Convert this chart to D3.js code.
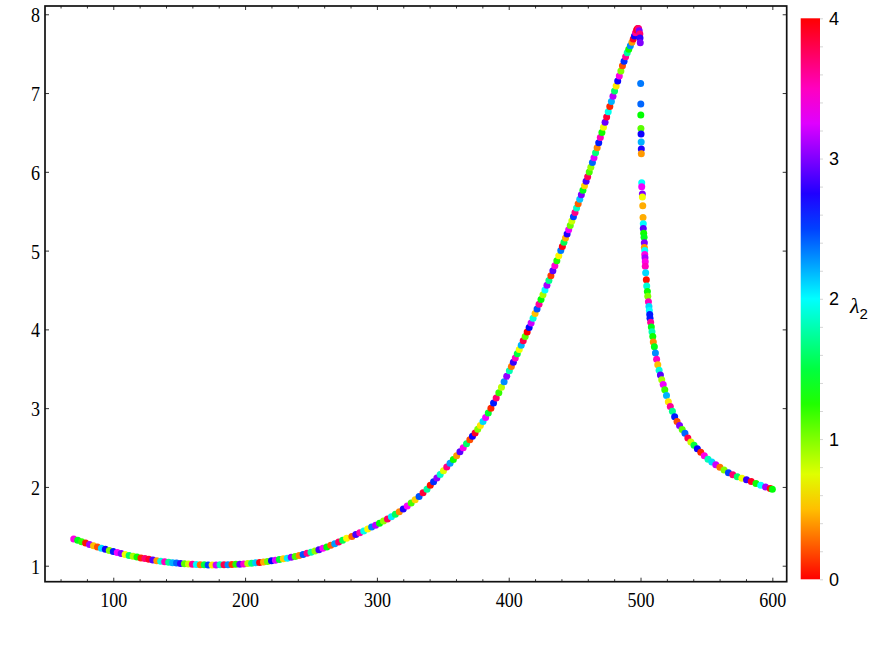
<!DOCTYPE html>
<html><head><meta charset="utf-8">
<script src="https://cdn.jsdelivr.net/npm/d3@7"></script>
<style>html,body{margin:0;padding:0;background:#fff;}</style>
</head><body>
<svg id="chart" width="872" height="654"></svg>
<script>
// ---------- data ----------
const xTicks = [100, 200, 300, 400, 500, 600];
const yTicks = [1, 2, 3, 4, 5, 6, 7, 8];
const colorTicks = [0, 1, 2, 3, 4];
const colorLabel = "λ";
const colorLabelSub = "2";

const xValues = [
70,73,76,79,82,85,88,91,94,97,100,103,106,109,112,115,118,121,124,127,130,133,136,139,142,145,148,151,154,157,160,163,166,169,172,175,178,181,184,187,190,193,196,199,202,205,208,211,214,217,220,223,226,229,232,235,238,241,244,247,250,253,256,259,262,265,268,271,274,277,
281,284,287,290,293,296,299,302,305,308,311,314,317,320,323,326,329,332,335,338,
340.5,343,345.5,348,350.5,353,355.5,358,360.5,363,365.5,368,370.5,
372.5,374.5,376.5,378.5,380.5,382.5,384.5,386.5,388.5,390.5,392.5,394.5,396.5,398.5,400.5,
402,403.5,405,406.5,408,409.5,411,412.5,414,415.5,417,418.5,420,421.5,423,424.5,426,427.5,429,430.5,432,433.5,435,436.5,438,439.5,
440.7,441.9,443.1,444.3,445.5,446.7,447.9,449.1,450.3,451.5,452.7,453.9,455.1,456.3,457.5,458.7,459.9,461.1,462.3,463.5,464.7,465.9,467.1,468.3,469.5,470.7,471.9,473.1,474.3,475.5,476.7,477.9,479.1,480.3,481.5,482.7,483.9,485.1,486.3,487.5,488.7,489.9,
491.1,492.3,493.5,494.5,495.4,496.2,497,497.8,498.5,499,
499.5,499.6,499.8,
500.1,500.2,500.2,500.3,500.4,500.5,500.6,500.6,
500.9,500.9,501.4,501.4,501.7,501.9,502.1,502.1,502.4,502.7,
502.9,502.9,503.2,503.2,503.4,503.6,503.6,503.9,504.4,504.7,
505.2,505.5,506.0,506.4,506.7,507.0,507.2,507.7,508.2,508.7,
509.3,509.7,
510.5,511.3,512.2,513.1,514.1,515.1,516.1,517.2,518.4,519.7,521.1,522.6,524.2,525.9,527.7,529.6,531.6,533.7,535.9,538.2,540.6,543.1,545.7,548.4,551.2,554.1,557.1,560.2,563.4,566.7,570,573.4,576.9,580.4,584,587.6,591.2,594.8,598.4,600
];

const yValues = [
1.34,1.322,1.304,1.287,1.27,1.253,1.238,1.222,1.208,1.193,1.18,1.167,1.154,1.142,1.13,1.119,1.109,1.099,1.09,1.081,1.072,1.064,1.057,1.05,1.044,1.038,1.033,1.028,1.024,1.021,1.018,1.015,1.013,1.011,1.01,1.01,1.01,1.011,1.012,1.013,1.015,1.017,1.02,1.023,1.027,1.032,1.037,1.042,1.048,1.055,1.062,1.07,1.078,1.087,1.096,1.106,1.116,1.129,1.143,1.157,1.172,1.187,1.203,1.221,1.239,1.259,1.278,1.30,1.322,1.347,
1.372,1.395,1.418,1.442,1.466,1.49,1.514,1.539,1.566,1.594,1.623,1.654,1.686,1.72,1.757,1.796,1.837,1.88,1.925,1.972,
2.02,2.066,2.112,2.158,2.205,2.252,2.30,2.348,2.397,2.447,2.497,2.548,2.6,
2.642,2.686,2.732,2.78,2.83,2.882,2.94,3.0,3.065,3.13,3.197,3.265,3.334,3.404,3.475,
3.528,3.582,3.636,3.69,3.745,3.8,3.855,3.91,3.966,4.023,4.08,4.14,4.2,4.26,4.32,4.38,4.44,4.5,4.56,4.62,4.682,4.745,4.808,4.872,4.936,5.0,
5.053,5.106,5.159,5.212,5.266,5.32,5.375,5.43,5.485,5.54,5.596,5.652,5.708,5.765,5.822,5.88,5.938,5.997,6.057,6.118,6.18,6.243,6.306,6.37,6.435,6.5,6.565,6.63,6.696,6.762,6.828,6.894,6.96,7.025,7.09,7.154,7.217,7.28,7.345,7.405,7.46,7.51,
7.555,7.6,7.645,7.685,7.725,7.765,7.8,7.82,7.82,7.79,
7.75,7.70,7.64,
7.12,6.86,6.72,6.55,6.48,6.38,6.29,6.23,
5.86,5.81,5.72,5.68,5.57,5.42,5.34,5.28,5.22,5.17,
5.10,5.04,5.0,4.95,4.91,4.86,4.80,4.72,4.63,4.55,
4.48,4.42,4.35,4.29,4.24,4.19,4.14,4.09,4.03,3.97,
3.91,3.84,
3.78,3.70,3.62,3.55,3.48,3.42,3.36,3.30,3.235,3.16,3.08,3.02,2.96,2.89,2.83,2.78,2.73,2.68,2.62,2.57,2.53,2.485,2.44,2.395,2.35,2.315,2.28,2.25,2.215,2.18,2.155,2.13,2.11,2.09,2.07,2.045,2.02,2.0,1.98,1.97
];

const lambdaValues = [
3.4,1.4,1.2,0.05,3.1,0.5,0.2,2.1,2.7,1.0,2.6,3.3,3.0,0.7,1.6,0.9,1.3,0.1,3.7,3.9,2.9,0.4,1.9,3.5,1.7,2.2,2.4,2.8,1.1,0.8,3.6,2.0,0.3,1.5,2.5,0.6,3.2,1.8,3.8,2.3,0.15,1.25,2.95,3.45,0.85,1.65,2.15,3.95,0.45,1.05,2.65,3.25,1.45,0.55,2.05,3.05,1.15,0.35,2.45,3.65,1.75,0.95,2.85,3.35,1.35,0.25,2.25,3.75,1.55,0.65,
0.25,2.85,3.55,1.95,0.65,2.35,3.15,1.35,0.95,3.75,2.05,1.55,0.35,2.75,3.35,1.15,0.55,2.45,3.85,1.75,
0.05,2.55,3.05,1.85,0.75,3.65,2.25,1.3,0.4,2.9,3.4,1.6,0.2,
2.7,3.9,1.0,0.6,2.1,3.3,1.45,0.1,2.6,3.7,1.2,0.85,2.3,3.05,1.8,
0.3,2.8,3.5,1.5,0.7,2.2,3.8,1.1,0.0,2.65,3.2,1.9,0.5,2.45,3.6,1.35,0.9,2.0,3.1,1.7,0.15,2.9,3.45,1.25,0.65,2.35,
3.95,1.55,0.45,2.75,3.3,1.05,0.8,2.5,3.65,1.85,0.25,2.15,3.0,1.4,0.55,2.85,3.75,1.15,0.95,2.4,3.25,1.65,0.35,2.6,3.5,1.3,0.7,2.95,3.85,1.95,0.1,2.2,3.15,1.6,0.6,2.7,3.4,1.0,0.2,2.55,3.6,1.75,
1.3,2.3,0.4,3.9,2.7,3.6,3.9,3.95,3.7,3.0,
3.7,2.8,3.0,
2.35,2.4,1.33,1.1,2.7,2.2,2.75,0.4,
2.0,3.3,3.0,0.7,0.45,0.45,2.0,2.9,1.3,1.4,
3.0,0.4,2.0,3.4,3.1,3.4,3.5,2.1,0.05,1.9,
1.3,1.0,3.5,2.1,2.0,2.6,2.6,3.6,1.4,1.8,
1.3,0.35,
1.4,2.3,3.5,0.5,1.9,2.9,0.9,3.3,1.2,2.2,0.6,3.6,1.7,2.6,0.2,3.0,1.1,2.4,3.8,0.8,1.5,2.7,0.1,3.4,1.8,2.1,3.2,0.3,1.0,2.5,3.7,1.6,0.7,2.8,3.9,1.3,2.0,3.1,0.05,1.35
];

// ---------- layout ----------
const svg = d3.select("#chart");
const plot = {left: 45, right: 786.7, top: 6, bottom: 581.7};

const x = d3.scaleLinear().domain([48.2, 610.9]).range([plot.left, plot.right]);
const y = d3.scaleLinear().domain([0.797, 8.105]).range([plot.bottom, plot.top]);
const color = v => d3.hsl((v / 4) * 360, 1, 0.5).toString();

const points = xValues.map((xv, i) => ({x: xv, y: yValues[i], l: lambdaValues[i]}));

// points
svg.append("g").selectAll("circle").data(points).join("circle")
  .attr("cx", d => x(d.x)).attr("cy", d => y(d.y)).attr("r", 3.5)
  .attr("fill", d => color(d.l));

// axes
const serif = "'Liberation Serif','Times New Roman',serif";
const minorX = d3.range(60, 610, 20).filter(v => v % 100 !== 0);

function styleAxis(g) {
  g.select(".domain").remove();
  g.selectAll(".tick line").attr("stroke", "#333").attr("stroke-width", 1);
}

const gx = svg.append("g").attr("transform", `translate(0,${plot.bottom})`)
  .call(d3.axisBottom(x).tickValues(xTicks).tickSize(-4).tickFormat(d3.format("d")));
styleAxis(gx);
gx.selectAll("text").attr("y", 25).attr("dy", 0).attr("x", 0)
  .attr("transform", "scale(0.82,1)")
  .attr("font-family", serif).attr("font-size", 22).attr("fill", "#000");

svg.append("g").attr("transform", `translate(0,${plot.bottom})`)
  .call(d3.axisBottom(x).tickValues(minorX).tickSize(-2.5).tickFormat(""))
  .call(styleAxis);
svg.append("g").attr("transform", `translate(0,${plot.top})`)
  .call(d3.axisTop(x).tickValues(xTicks).tickSize(-4).tickFormat(""))
  .call(styleAxis);
svg.append("g").attr("transform", `translate(0,${plot.top})`)
  .call(d3.axisTop(x).tickValues(minorX).tickSize(-2.5).tickFormat(""))
  .call(styleAxis);

const gy = svg.append("g").attr("transform", `translate(${plot.left},0)`)
  .call(d3.axisLeft(y).tickValues(yTicks).tickSize(-4).tickFormat(d3.format("d")));
styleAxis(gy);
gy.selectAll("text").attr("x", -5 / 0.82).attr("dy", "0.34em")
  .attr("transform", "scale(0.82,1)")
  .attr("font-family", serif).attr("font-size", 22).attr("fill", "#000");

svg.append("g").attr("transform", `translate(${plot.right},0)`)
  .call(d3.axisRight(y).tickValues(yTicks).tickSize(-4).tickFormat(""))
  .call(styleAxis);

// frame
svg.append("rect").attr("x", plot.left).attr("y", plot.top)
  .attr("width", plot.right - plot.left).attr("height", plot.bottom - plot.top)
  .attr("fill", "none").attr("stroke", "#111").attr("stroke-width", 1.7);

// colour bar
const cb = {x: 800.7, w: 19.3, top: 18.3, bottom: 579.3};
const cy = d3.scaleLinear().domain([0, 4]).range([cb.bottom, cb.top]);
const defs = svg.append("defs");
const grad = defs.append("linearGradient").attr("id", "hueGrad")
  .attr("x1", 0).attr("y1", 1).attr("x2", 0).attr("y2", 0);
d3.range(0, 4.0001, 0.25).forEach(v => {
  grad.append("stop").attr("offset", v / 4).attr("stop-color", color(v));
});
svg.append("rect").attr("x", cb.x).attr("y", cb.top).attr("width", cb.w)
  .attr("height", cb.bottom - cb.top).attr("fill", "url(#hueGrad)");

const gc = svg.append("g").attr("transform", `translate(${cb.x + cb.w},0)`)
  .call(d3.axisRight(cy).tickValues(d3.range(0, 4.001, 0.2)).tickSize(3).tickFormat(""));
gc.select(".domain").remove();
gc.selectAll(".tick line").attr("stroke", "#ccc").attr("stroke-width", 0.8);

svg.append("g").selectAll("text").data(colorTicks).join("text")
  .attr("x", 829).attr("y", d => cy(d)).attr("dy", "0.36em")
  .attr("font-family", "'Liberation Sans',Arial,sans-serif").attr("font-size", 18)
  .attr("fill", "#000").text(d => d);

const lab = svg.append("text").attr("x", 850).attr("y", 313)
  .attr("font-family", serif).attr("font-style", "italic").attr("font-size", 22).attr("fill", "#000");
lab.append("tspan").text(colorLabel);
lab.append("tspan").attr("dy", 6).attr("font-style", "normal")
  .attr("font-family", "'Liberation Sans',Arial,sans-serif").attr("font-size", 15).text(colorLabelSub);
</script>
</body></html>
